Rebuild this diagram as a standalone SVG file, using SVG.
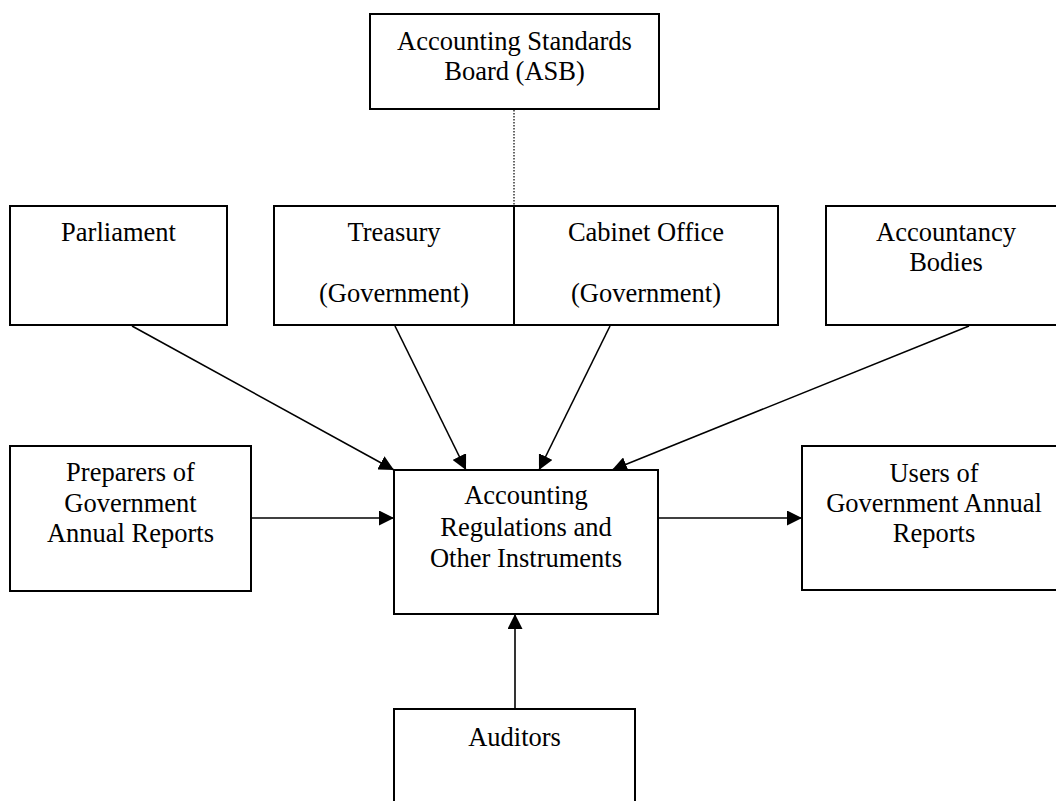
<svg xmlns="http://www.w3.org/2000/svg" width="1056" height="801" viewBox="0 0 1056 801">
  <style>
    .box { fill: #ffffff; stroke: #000000; stroke-width: 2; }
    .lbl { font-family: "Liberation Serif", "Times New Roman", serif; font-size: 26.5px; fill: #000000; text-anchor: middle; }
    .conn { stroke: #000000; stroke-width: 1.6; fill: none; }
    .dot { stroke: #000000; stroke-width: 1.2; stroke-dasharray: 1.5 1.5; fill: none; }
  </style>
  <defs>
    <marker id="arrow" viewBox="0 0 10 10" refX="10" refY="5" markerWidth="15" markerHeight="15" markerUnits="userSpaceOnUse" orient="auto">
      <path d="M0,0 L10,5 L0,10 Z" fill="#000000"/>
    </marker>
  </defs>
  <rect width="1056" height="801" fill="#ffffff"/>

  <g id="connectors">
    <line class="dot" x1="514" y1="110" x2="514" y2="206"/>
    <line class="conn" x1="132" y1="326" x2="394" y2="470" marker-end="url(#arrow)"/>
    <line class="conn" x1="395" y1="326" x2="466" y2="470" marker-end="url(#arrow)"/>
    <line class="conn" x1="610" y1="326" x2="539" y2="470" marker-end="url(#arrow)"/>
    <line class="conn" x1="969" y1="326" x2="612" y2="470" marker-end="url(#arrow)"/>
    <line class="conn" x1="251" y1="518" x2="394" y2="518" marker-end="url(#arrow)"/>
    <line class="conn" x1="658" y1="518" x2="802" y2="518" marker-end="url(#arrow)"/>
    <line class="conn" x1="515" y1="709" x2="515" y2="614" marker-end="url(#arrow)"/>
  </g>

  <g id="asb">
    <rect class="box" x="370" y="14" width="289" height="95"/>
    <text class="lbl" x="514.5" y="50">Accounting Standards</text>
    <text class="lbl" x="514.5" y="80">Board (ASB)</text>
  </g>

  <g id="parliament">
    <rect class="box" x="10" y="206" width="217" height="119"/>
    <text class="lbl" x="118.5" y="241">Parliament</text>
  </g>

  <g id="treasury">
    <rect class="box" x="274" y="206" width="240" height="119"/>
    <text class="lbl" x="394" y="241">Treasury</text>
    <text class="lbl" x="394" y="302">(Government)</text>
  </g>

  <g id="cabinet-office">
    <rect class="box" x="514" y="206" width="264" height="119"/>
    <text class="lbl" x="646" y="241">Cabinet Office</text>
    <text class="lbl" x="646" y="302">(Government)</text>
  </g>

  <g id="accountancy-bodies">
    <rect class="box" x="826" y="206" width="240" height="119"/>
    <text class="lbl" x="946" y="241">Accountancy</text>
    <text class="lbl" x="946" y="271">Bodies</text>
  </g>

  <g id="preparers">
    <rect class="box" x="10" y="446" width="241" height="145"/>
    <text class="lbl" x="130.5" y="481">Preparers of</text>
    <text class="lbl" x="130.5" y="512">Government</text>
    <text class="lbl" x="130.5" y="542">Annual Reports</text>
  </g>

  <g id="regulations">
    <rect class="box" x="394" y="470" width="264" height="144"/>
    <text class="lbl" x="526" y="504">Accounting</text>
    <text class="lbl" x="526" y="536">Regulations and</text>
    <text class="lbl" x="526" y="567">Other Instruments</text>
  </g>

  <g id="users">
    <rect class="box" x="802" y="446" width="264" height="144"/>
    <text class="lbl" x="934" y="482">Users of</text>
    <text class="lbl" x="934" y="512">Government Annual</text>
    <text class="lbl" x="934" y="542">Reports</text>
  </g>

  <g id="auditors">
    <rect class="box" x="394" y="709" width="241" height="110"/>
    <text class="lbl" x="514.5" y="746">Auditors</text>
  </g>
</svg>
